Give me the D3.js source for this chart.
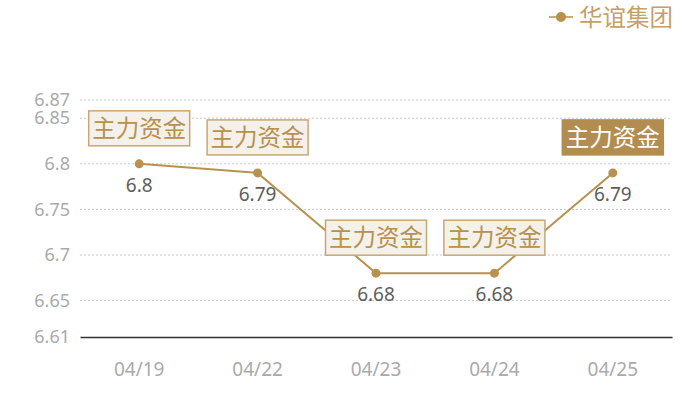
<!DOCTYPE html>
<html><head><meta charset="utf-8">
<script src="https://cdn.jsdelivr.net/npm/d3@7"></script>
<style>body{margin:0;background:#fff;}svg{display:block;font-family:"Noto Sans CJK SC","Noto Sans",sans-serif;}</style>
</head><body>
<svg id="c" width="700" height="400"></svg>
<script>
const categories = ["04/19","04/22","04/23","04/24","04/25"];
const values = [6.8, 6.79, 6.68, 6.68, 6.79];
const yTicks = [6.61, 6.65, 6.7, 6.75, 6.8, 6.85, 6.87];
const seriesName = "华谊集团";
const markLabels = ["主力资金","主力资金","主力资金","主力资金","主力资金"];
const markHighlight = [false,false,false,false,true];

const gold = "#b8914f";
const svg = d3.select("#c");
const x = d3.scaleBand().domain(categories).range([80, 672]);
const y = d3.scaleLinear().domain([6.61, 6.87]).range([337, 100]);
const cx = d => x(d) + x.bandwidth()/2;

// grid
svg.append("g").selectAll("line").data(yTicks.filter(t => t !== 6.61)).join("line")
  .attr("x1", 80).attr("x2", 672).attr("y1", d => y(d)).attr("y2", d => y(d))
  .attr("stroke", "#c8c8c8").attr("stroke-dasharray", "2,2").attr("stroke-width", 1);

// y axis labels
const yAxis = d3.axisLeft(y).tickValues(yTicks).tickSize(0).tickPadding(10).tickFormat(d => String(d));
const ya = svg.append("g").attr("transform", "translate(80,0)").call(yAxis);
ya.select(".domain").remove();
ya.selectAll("text").attr("fill", "#aaa").attr("font-size", 18).attr("font-family", "'Noto Sans','Open Sans',sans-serif");

// x axis
const xAxis = d3.axisBottom(x).tickSize(0).tickPadding(26);
const xa = svg.append("g").attr("transform", `translate(0,${y(6.61)})`).call(xAxis);
xa.select(".domain").attr("stroke", "#333").attr("stroke-width", 1.3);
xa.selectAll("text").attr("fill", "#aaa").attr("font-size", 19).attr("font-family", "'Noto Sans','Open Sans',sans-serif");

// line
const line = d3.line().x((d,i) => cx(categories[i])).y(d => y(d));
svg.append("path").datum(values).attr("d", line).attr("fill", "none").attr("stroke", gold).attr("stroke-width", 2);

// points
svg.append("g").selectAll("circle").data(values).join("circle")
  .attr("cx", (d,i) => cx(categories[i])).attr("cy", d => y(d)).attr("r", 4.5).attr("fill", gold);

// value labels
svg.append("g").selectAll("text").data(values).join("text")
  .attr("x", (d,i) => cx(categories[i])).attr("y", d => y(d) + 28)
  .attr("text-anchor", "middle").attr("font-size", 19).attr("fill", "#5e5e5e")
  .attr("font-family", "'Noto Sans','Open Sans',sans-serif")
  .text(d => String(d));

// mark label boxes
const bw = 101, bh = 35;
const boxes = svg.append("g").selectAll("g").data(values).join("g")
  .attr("transform", (d,i) => `translate(${cx(categories[i]) - bw/2},${y(d) - 18 - bh})`);
boxes.append("rect").attr("width", bw).attr("height", bh)
  .attr("fill", (d,i) => markHighlight[i] ? "#b38d50" : "#f4f0ea")
  .attr("stroke", (d,i) => markHighlight[i] ? "#b38d50" : "#c8a776").attr("stroke-width", 1.5);
boxes.append("text").attr("x", bw/2).attr("y", bh/2 + 8.5).attr("text-anchor", "middle")
  .attr("font-size", 23.5).attr("fill", (d,i) => markHighlight[i] ? "#fff" : "#b8914f")
  .text((d,i) => markLabels[i]);

// legend
const lg = svg.append("g").attr("transform", "translate(549,17)");
lg.append("line").attr("x1", 0).attr("x2", 24).attr("stroke", gold).attr("stroke-width", 1.5);
lg.append("circle").attr("cx", 12).attr("r", 5).attr("fill", gold);
lg.append("text").attr("x", 30).attr("y", 8.5).attr("font-size", 23.5).attr("fill", "#c4a06a").text(seriesName);
</script>
</body></html>
